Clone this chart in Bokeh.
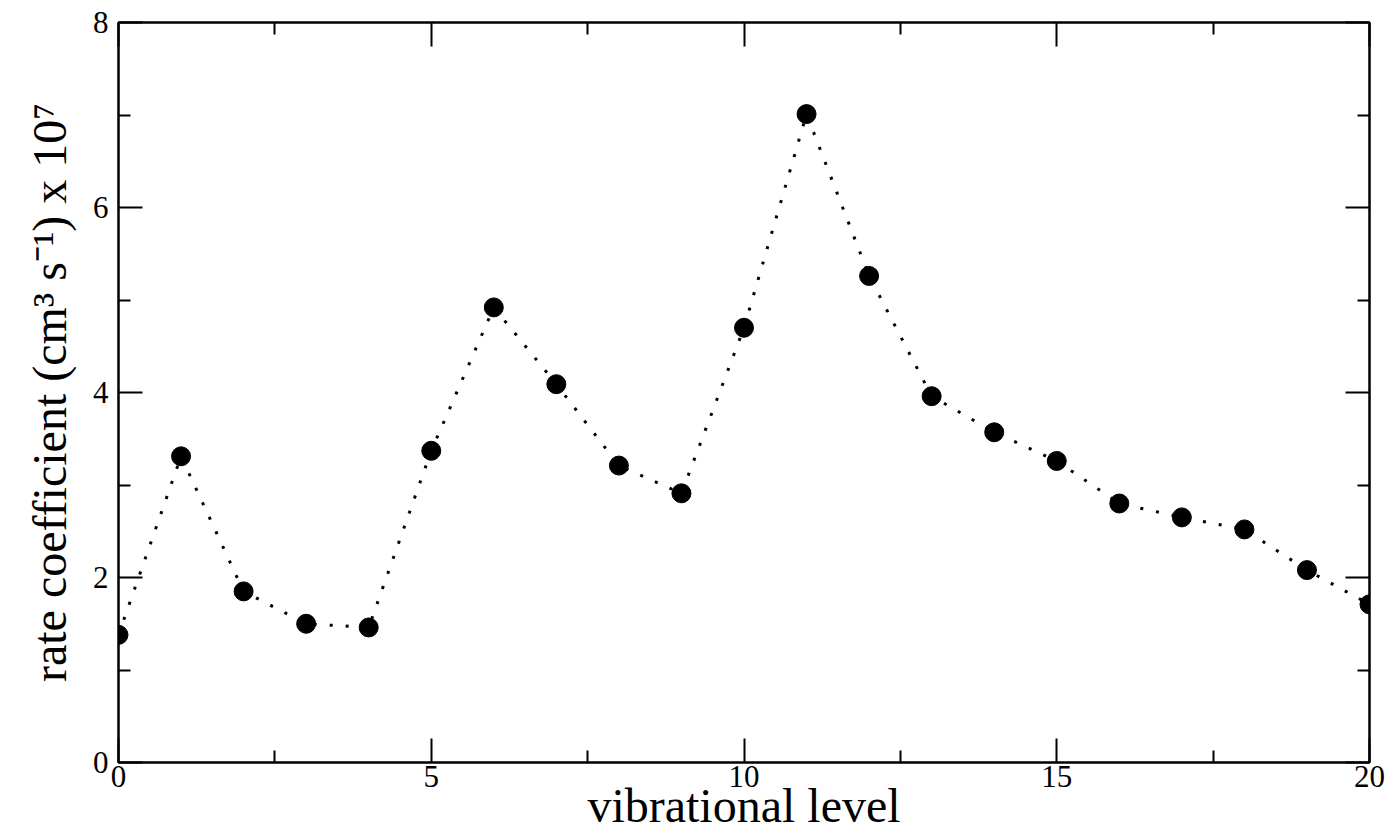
from bokeh.plotting import figure
from bokeh.models import LinearAxis, FixedTicker, Range1d
from bokeh.embed import file_html
from bokeh.resources import INLINE

# data
levels = list(range(0, 21))
rates = [1.38, 3.31, 1.85, 1.50, 1.46, 3.37, 4.92, 4.09, 3.21, 2.91, 4.70,
         7.01, 5.26, 3.96, 3.57, 3.26, 2.80, 2.65, 2.52, 2.08, 1.71]
x_major = [0, 5, 10, 15, 20]
x_minor = [2.5, 7.5, 12.5, 17.5]
y_major = [0, 2, 4, 6, 8]
y_minor = [1, 3, 5, 7]
x_label = "vibrational level"
y_label = "rate coefficient (cm\u00b3 s\u207b\u00b9) x 10\u2077"

FONT = "Liberation Serif"

p = figure(width=1393, height=835, output_backend="svg", toolbar_location=None,
           x_range=Range1d(0, 20), y_range=Range1d(0, 8),
           min_border_left=118, min_border_right=24, min_border_top=22, min_border_bottom=73,
           x_axis_location=None, y_axis_location=None)
p.xgrid.visible = False
p.ygrid.visible = False
p.outline_line_color = "black"
p.outline_line_width = 2
p.background_fill_color = "white"
p.border_fill_color = "white"

def style(ax):
    ax.axis_line_color = "black"
    ax.axis_line_width = 2
    ax.major_tick_line_width = 2
    ax.minor_tick_line_width = 2
    ax.major_tick_in = 24
    ax.major_tick_out = 0
    ax.minor_tick_in = 12
    ax.minor_tick_out = 0
    ax.major_label_text_font = FONT
    ax.major_label_text_font_size = "31px"
    ax.major_label_text_color = "black"
    ax.axis_label_text_font = FONT
    ax.axis_label_text_font_style = "normal"
    ax.axis_label_text_font_size = "48px"
    ax.axis_label_text_color = "black"

xt = FixedTicker(ticks=x_major, minor_ticks=x_minor)
yt = FixedTicker(ticks=y_major, minor_ticks=y_minor)

bottom = LinearAxis(ticker=xt, axis_label=x_label)
style(bottom)
bottom.major_label_standoff = 3
bottom.axis_label_standoff = -11
p.add_layout(bottom, "below")

left = LinearAxis(ticker=yt, axis_label=y_label)
style(left)
left.major_label_standoff = 10
left.axis_label_standoff = 14
p.add_layout(left, "left")

top = LinearAxis(ticker=FixedTicker(ticks=x_major, minor_ticks=x_minor))
style(top)
top.major_label_overrides = {t: "" for t in x_major}
top.major_label_text_font_size = "1px"
top.major_label_standoff = 0
p.add_layout(top, "above")

right = LinearAxis(ticker=FixedTicker(ticks=y_major, minor_ticks=y_minor))
style(right)
right.major_label_overrides = {t: "" for t in y_major}
right.major_label_text_font_size = "1px"
right.major_label_standoff = 0
p.add_layout(right, "right")

p.line(levels, rates, line_color="black", line_width=3, line_dash="3 13")
p.scatter(levels, rates, size=19, marker="circle", fill_color="black", line_color="black")

open("out.html", "w").write(file_html(p, INLINE))
